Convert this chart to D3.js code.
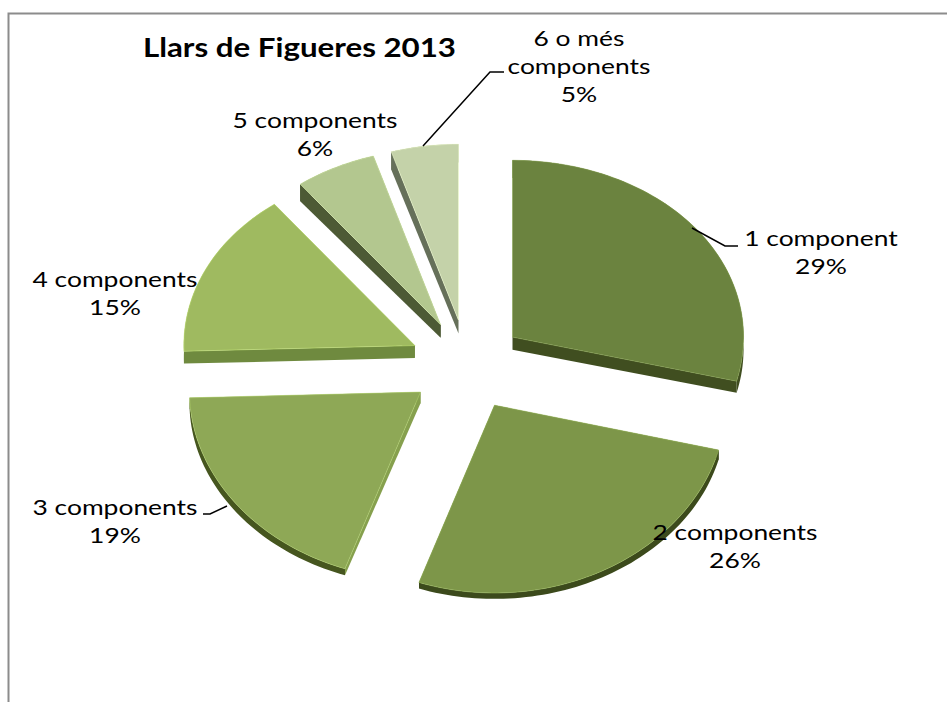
<!DOCTYPE html>
<html>
<head>
<meta charset="utf-8">
<script src="https://cdn.jsdelivr.net/npm/d3@7"></script>
<style>
  html, body { margin: 0; padding: 0; background: #fff; }
  svg { display: block; }
  text { font-family: Lato, sans-serif; fill: #000; }
</style>
</head>
<body>
<div id="chart"></div>
<script>
const categories = ["1 component", "2 components", "3 components", "4 components", "5 components", "6 o més components"];
const shares = [28.9, 26.4, 19.2, 15.1, 5.7, 4.7];
const faceColors = ["#6b833f", "#7d9649", "#8ea856", "#9fba60", "#b3c78f", "#c4d2a9"];
const rimColors = ["#404e20", "#3c4a1c", "#46561f", "#6f8a3f", "#4d5a35", "#66705a"];
const cutColors = ["#404e20", "#3c4a1c", "#86a04e", "#6f8a3f", "#4d5a35", "#66705a"];

const width = 947, height = 702;
const svg = d3.select("#chart").append("svg").attr("width", width).attr("height", height);

// chart frame, runs off the right and bottom of the picture
svg.append("path")
    .attr("d", `M8.5,${height} V13.5 H${width}`)
    .attr("fill", "none").attr("stroke", "#8c8c8c").attr("stroke-width", 2);

svg.append("text").attr("x", 143).attr("y", 57)
    .attr("font-size", 26).attr("font-weight", 700)
    .attr("textLength", 313).attr("lengthAdjust", "spacingAndGlyphs")
    .text("Llars de Figueres 2013");

// the tilted plane of the pie: unit circle coords to screen
const explode = 0.25;
const sx = d3.scaleLinear().domain([-1, 1]).range([467 - 231, 467 + 231]);
const sy = v => 365 + 182 * v + 4 * v * v;
const depth = v => Math.max(4, 12 - 5 * v);

const pie = d3.pie().sort(null).value(d => d);
const arcs = pie(shares);
const line = d3.line();

function rimPoints(a) {
  const n = Math.ceil((a.endAngle - a.startAngle) * 40);
  const mid = (a.startAngle + a.endAngle) / 2;
  const ax = explode * Math.sin(mid), ay = -explode * Math.cos(mid);
  const pts = d3.range(n + 1).map(i => {
    const t = a.startAngle + (a.endAngle - a.startAngle) * i / n;
    return [ax + Math.sin(t), ay - Math.cos(t)];
  });
  return { apex: [ax, ay], pts };
}
const upper = p => [sx(p[0]), sy(p[1])];
const lower = p => [sx(p[0]), sy(p[1]) + depth(p[1])];

const slices = svg.selectAll("g.slice").data(arcs).enter().append("g").attr("class", "slice");

slices.each(function (a, i) {
  const g = d3.select(this);
  const { apex, pts } = rimPoints(a);
  const rim = pts.map(upper).concat(pts.slice().reverse().map(lower));
  g.append("path").attr("d", line(rim) + "Z").attr("fill", rimColors[i]);
  [pts[0], pts[pts.length - 1]].forEach(p => {
    const q = [upper(apex), upper(p), lower(p), lower(apex)];
    g.append("path").attr("d", line(q) + "Z").attr("fill", cutColors[i]);
  });
  const face = [apex].concat(pts).map(upper);
  g.append("path").attr("d", line(face) + "Z").attr("fill", faceColors[i])
      .attr("stroke", d3.color(faceColors[i]).brighter(0.6)).attr("stroke-width", 0.8).attr("stroke-opacity", 0.7);
});

// leader lines
const leaders = [
  [[692, 228], [725, 246], [738, 246]],
  [[227, 506], [210, 514], [203, 514]],
  [[423, 146], [490, 72], [504, 72]]
];
svg.selectAll("path.leader").data(leaders).enter().append("path")
    .attr("class", "leader").attr("d", line)
    .attr("fill", "none").attr("stroke", "#000").attr("stroke-width", 1.5);

// data labels: category lines then the rounded share
const labelAnchors = [[821, 246], [735, 540], [115, 515], [115, 287], [315, 128], [579, 46]];
const percent = d3.format(".0f");
const labelStretch = 1.2; // the original text is wider than it is tall

categories.forEach((c, i) => {
  const rows = c === "6 o més components" ? ["6 o més", "components"] : [c];
  rows.push(percent(shares[i]) + "%");
  rows.forEach((r, j) => {
    const t = svg.append("text").attr("font-size", 22).attr("text-anchor", "middle")
        .attr("x", labelAnchors[i][0]).attr("y", labelAnchors[i][1] + j * 28).text(r);
    t.attr("textLength", t.node().getComputedTextLength() * labelStretch)
        .attr("lengthAdjust", "spacingAndGlyphs");
  });
});
</script>
</body>
</html>
